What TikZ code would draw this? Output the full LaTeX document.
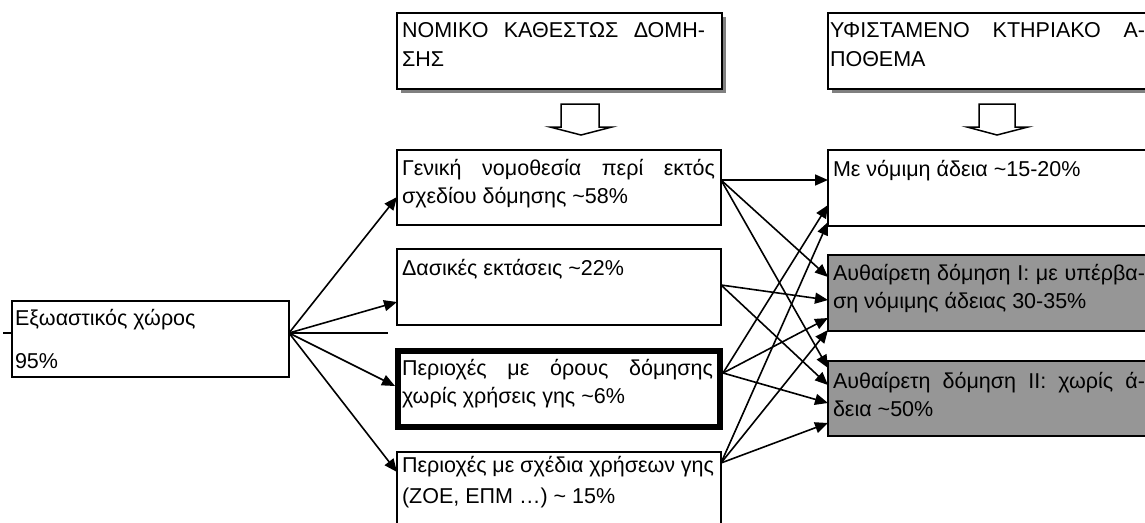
\documentclass[tikz,border=0pt]{standalone}
\usepackage{fontspec}
\setmainfont{Liberation Sans}
\usetikzlibrary{arrows.meta,calc,shadows}
\definecolor{boxgray}{RGB}{150,150,150}
\definecolor{shadowgray}{RGB}{128,128,128}
\newcommand{\bodyfont}{\fontsize{21.5}{28.5}\selectfont}
\begin{document}
\begin{tikzpicture}[x=1pt,y=-1pt,
  box/.style={draw, line width=1.5pt, inner sep=0pt, outer sep=0pt, anchor=north west, fill=white},
  graybox/.style={box, fill=boxgray},
  thickbox/.style={box, line width=5.7pt},
  txt/.style={inner sep=0pt, outer sep=0pt, anchor=base west, font=\bodyfont},
  conn/.style={line width=1.6pt, -{Triangle[length=13pt,width=11pt]}},
  plainline/.style={line width=1.6pt},
  blockarrow/.style={draw, line width=1.5pt, fill=white, line join=miter},
  shd/.style={drop shadow={shadow xshift=4pt, shadow yshift=-4pt, fill=shadowgray, opacity=1}}]
\useasboundingbox (0,0) rectangle (1145,522);
\clip (0,0) rectangle (1145,522);

% header boxes
\node[box, shd, minimum width=325pt, minimum height=76pt] (nom) at (397,13) {};
\node[txt] (nomt) at (402,37.5) {\parbox[t]{303pt}{\makebox[303pt][s]{ΝΟΜΙΚΟ ΚΑΘΕΣΤΩΣ ΔΟΜΗ-}\\ΣΗΣ}};
\node[box, shd, minimum width=340pt, minimum height=76pt] (yfi) at (828,13) {};
\node[txt] (yfit) at (830,37.5) {\parbox[t]{315pt}{\makebox[315pt][s]{ΥΦΙΣΤΑΜΕΝΟ ΚΤΗΡΙΑΚΟ Α-}\\ΠΟΘΕΜΑ}};

% hollow down arrows
\draw[blockarrow] (561,104) -- (599,104) -- (599,127) -- (612,127) -- (581,135) -- (550,127) -- (561,127) -- cycle;
\draw[blockarrow] (979,104) -- (1015,104) -- (1015,127) -- (1028,127) -- (997,135) -- (967,127) -- (979,127) -- cycle;

% left box
\node[box, minimum width=277pt, minimum height=76pt] (ex) at (12,301) {};
\node[txt] (ext) at (15,325) {\parbox[t]{270pt}{Εξωαστικός χώρος\\[14.5pt]95\%}};

% middle column
\node[box, minimum width=324pt, minimum height=75pt] (gen) at (397,150) {};
\node[txt] (gent) at (402,175) {\parbox[t]{313pt}{\makebox[313pt][s]{Γενική νομοθεσία περί εκτός}\\σχεδίου δόμησης \textasciitilde58\%}};
\node[box, minimum width=324pt, minimum height=76pt] (das) at (397,249) {};
\node[txt] (dast) at (402,275) {Δασικές εκτάσεις \textasciitilde22\%};
\node[thickbox, minimum width=322pt, minimum height=76pt] (oro) at (398,351) {};
\node[txt] (orot) at (402,375) {\parbox[t]{311pt}{\makebox[311pt][s]{Περιοχές με όρους δόμησης}\\χωρίς χρήσεις γης \textasciitilde6\%}};
\node[box, minimum width=324pt, minimum height=90pt] (sxe) at (397,452) {};
\node[txt] (sxet) at (402,472) {\parbox[t]{312pt}{\makebox[312pt][s]{Περιοχές με σχέδια χρήσεων γης}\\[3pt](ΖΟΕ, ΕΠΜ …) \textasciitilde\ 15\%}};

% right column
\node[box, minimum width=340pt, minimum height=76pt] (nomi) at (828,150) {};
\node[txt] (nomit) at (833,176) {Με νόμιμη άδεια \textasciitilde15-20\%};
\node[graybox, minimum width=340pt, minimum height=76pt] (auth1) at (828,255) {};
\node[txt] (auth1t) at (833,280) {\parbox[t]{312pt}{\makebox[312pt][s]{Αυθαίρετη δόμηση I: με υπέρβα-}\\ση νόμιμης άδειας 30-35\%}};
\node[graybox, minimum width=340pt, minimum height=75pt] (auth2) at (828,361) {};
\node[txt] (auth2t) at (833,388) {\parbox[t]{312pt}{\makebox[312pt][s]{Αυθαίρετη δόμηση II: χωρίς ά-}\\δεια \textasciitilde50\%}};

% fan from left box
\coordinate (exo) at ($(ex.north east)+(0,32)$);
\coordinate (stub) at ($(ex.north west)+(-9,32)$);
\coordinate (hend) at ($(exo)+(99,0)$);
\draw[plainline] (stub) -- ($(ex.north west)+(0,32)$);
\draw[plainline] (exo) -- (hend);
\draw[conn] (exo) -- ($(gen.north west)+(0,47)$);
\draw[conn] (exo) -- ($(das.north west)+(0,53)$);
\draw[conn] (exo) -- ($(oro.north west)+(-3,35)$);
\draw[conn] (exo) -- ($(sxe.north west)+(0,20)$);

% origins on the middle column
\coordinate (go) at ($(gen.north east)+(0,30)$);
\coordinate (do) at ($(das.north east)+(0,36)$);
\coordinate (oo) at ($(oro.north east)+(3,22)$);
\coordinate (so) at ($(sxe.north east)+(0,11)$);

\draw[conn] (go) -- ($(nomi.north west)+(0,30)$);
\draw[conn] (go) -- ($(auth1.north west)+(0,22)$);
\draw[conn] (go) -- ($(auth2.north west)+(0,7)$);
\draw[conn] (do) -- ($(auth1.north west)+(0,45)$);
\draw[conn] (do) -- ($(auth2.north west)+(0,24)$);
\draw[conn] (oo) -- ($(nomi.north west)+(0,55)$);
\draw[conn] (oo) -- ($(auth1.north west)+(0,63)$);
\draw[conn] (oo) -- ($(auth2.north west)+(0,42)$);
\draw[conn] (so) -- ($(nomi.north west)+(0,72)$);
\draw[conn] (so) -- ($(auth1.north west)+(0,75)$);
\draw[conn] (so) -- ($(auth2.north west)+(0,62)$);
\end{tikzpicture}
\end{document}
